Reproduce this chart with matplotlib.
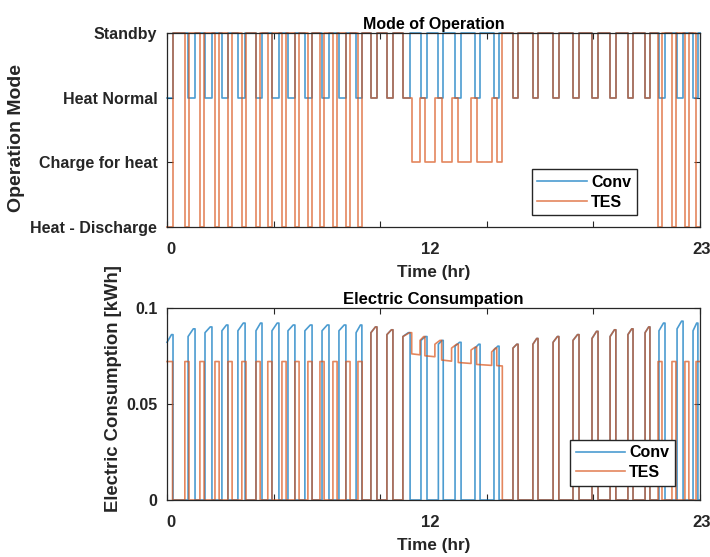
import matplotlib
matplotlib.use("Agg")
import matplotlib.pyplot as plt
import matplotlib.transforms as mtransforms

# mode codes: 0 Heat - Discharge, 1 Charge for heat, 2 Heat Normal, 3 Standby
MODE_NAMES = ["Heat - Discharge", "Charge for heat", "Heat Normal", "Standby"]
STANDBY = 3
HEAT_NORMAL = 2

# Conv: heat normal periods (hr) and electric consumption (kWh) at start / peak of each period
conv_start = [0.00, 0.91, 1.64, 2.37, 3.06, 3.84, 4.53, 5.22, 5.95, 6.69, 7.42, 8.16, 8.80, 9.49,
              10.18, 10.96, 11.71, 12.43, 13.29, 14.11, 14.93, 15.79, 16.66, 17.52, 18.34, 19.12,
              19.89, 20.63, 21.23, 22.01, 22.70]
conv_end = [0.26, 1.21, 1.94, 2.63, 3.37, 4.10, 4.83, 5.52, 6.26, 6.99, 7.72, 8.41, 9.06, 9.75,
            10.49, 11.22, 11.92, 12.69, 13.51, 14.33, 15.15, 16.01, 16.91, 17.78, 18.60, 19.37,
            20.11, 20.84, 21.49, 22.27, 22.91]
conv_low = [0.082, 0.085, 0.087, 0.088, 0.088, 0.088, 0.088, 0.088, 0.088, 0.088, 0.088, 0.087,
            0.087, 0.086, 0.085, 0.083, 0.081, 0.080, 0.079, 0.078, 0.079, 0.081, 0.082, 0.083,
            0.084, 0.085, 0.086, 0.087, 0.088, 0.089, 0.088]
conv_peak = [0.086, 0.089, 0.090, 0.091, 0.092, 0.092, 0.092, 0.091, 0.091, 0.091, 0.091, 0.091,
             0.090, 0.0885, 0.087, 0.085, 0.083, 0.082, 0.081, 0.080, 0.081, 0.084, 0.085, 0.086,
             0.0877, 0.0885, 0.089, 0.090, 0.092, 0.093, 0.092]

# TES: active periods (hr), mode and consumption (kWh) at start / end of each period
tes_start = [0.00, 0.77, 1.42, 2.07, 2.63, 3.23, 3.84, 4.35, 4.96, 5.52, 6.08, 6.60, 7.16, 7.72, 8.24,
             8.80, 9.49, 10.18,
             10.56, 10.92, 11.13, 11.56, 11.85, 12.28, 12.57, 13.12, 13.36, 14.01, 14.23,
             14.93, 15.79, 16.66, 17.52, 18.34, 19.12, 19.89, 20.63,
             21.19, 21.79, 22.35, 22.83]
tes_end = [0.24, 0.95, 1.60, 2.25, 2.81, 3.41, 4.02, 4.53, 5.14, 5.70, 6.26, 6.78, 7.34, 7.90, 8.42,
           9.06, 9.75, 10.56,
           10.92, 11.13, 11.56, 11.85, 12.28, 12.57, 13.12, 13.36, 14.01, 14.23, 14.47,
           15.15, 16.01, 16.91, 17.78, 18.60, 19.37, 20.11, 20.84,
           21.36, 21.96, 22.52, 23.00]
tes_mode = [0, 0, 0, 0, 0, 0, 0, 0, 0, 0, 0, 0, 0, 0, 0,
            2, 2, 2,
            1, 2, 1, 2, 1, 2, 1, 2, 1, 2, 1,
            2, 2, 2, 2, 2, 2, 2, 2,
            0, 0, 0, 0]
tes_low = [0.072, 0.072, 0.072, 0.072, 0.072, 0.072, 0.072, 0.072, 0.072, 0.072, 0.072, 0.072, 0.072,
           0.072, 0.072,
           0.087, 0.086, 0.085,
           0.076, 0.083, 0.075, 0.081, 0.0728, 0.079, 0.0715, 0.078, 0.0705, 0.077, 0.0699,
           0.079, 0.081, 0.082, 0.083, 0.084, 0.085, 0.086, 0.087,
           0.072, 0.072, 0.072, 0.072]
tes_high = [0.072, 0.072, 0.072, 0.072, 0.072, 0.072, 0.072, 0.072, 0.072, 0.072, 0.072, 0.072, 0.072,
            0.072, 0.072,
            0.090, 0.0885, 0.087,
            0.0755, 0.085, 0.0745, 0.083, 0.0722, 0.081, 0.071, 0.0795, 0.070, 0.079, 0.0697,
            0.081, 0.084, 0.085, 0.086, 0.0877, 0.0885, 0.089, 0.090,
            0.072, 0.072, 0.072, 0.072]

T_END = 23.0
CONV_COLOR = "#0072BD"
TES_COLOR = "#D95319"
TXT = "#262626"

plt.rcParams["font.family"] = ["Liberation Sans", "DejaVu Sans"]
plt.rcParams["font.weight"] = "bold"
plt.rcParams["axes.labelweight"] = "bold"
plt.rcParams["axes.titleweight"] = "bold"


def mode_path(starts, ends, modes):
    t, y = [], []
    prev = 0.0
    for a, b, m in zip(starts, ends, modes):
        if a > prev:
            t += [prev, a]
            y += [STANDBY, STANDBY]
        t += [a, b]
        y += [m, m]
        prev = b
    if prev < T_END:
        t += [prev, T_END]
        y += [STANDBY, STANDBY]
    return t, y


def energy_path(starts, ends, modes, lows, highs):
    t, y = [], []
    prev = 0.0
    for a, b, m, lo, hi in zip(starts, ends, modes, lows, highs):
        if a > prev:
            t += [prev, a]
            y += [0, 0]
        t.append(a)
        y.append(lo)
        if m == HEAT_NORMAL:
            # consumption ramps up during heating, then holds
            t.append(a + 0.75 * (b - a))
            y.append(hi)
        t.append(b)
        y.append(hi)
        prev = b
    if prev < T_END:
        t += [prev, T_END]
        y += [0, 0]
    return t, y


def style_axes(ax, title, title_size, ylabel, ylabel_size, label_x, label_y):
    ax.set_xlim(0, T_END)
    ax.set_xticks([0, 4.6, 9.2, 13.8, 18.4, 23])
    ax.set_xticklabels([])
    ax.tick_params(direction="in", top=True, right=True, length=4, width=0.8,
                   colors=TXT, labelsize=11.5, pad=7)
    for s in ax.spines.values():
        s.set_color(TXT)
        s.set_linewidth(0.9)
    ax.set_title(title, fontsize=title_size, pad=3, color="black")
    ax.set_ylabel(ylabel, fontsize=ylabel_size, color=TXT)
    ax.yaxis.set_label_coords(label_x, label_y)
    trans = mtransforms.blended_transform_factory(ax.transAxes, ax.transAxes)
    for lab, xp in [("0", 0.008), ("12", 0.493), ("23", 1.004)]:
        ax.text(xp, -0.115, lab, transform=trans, ha="center", va="center",
                fontsize=12, color=TXT)
    ax.text(0.5, -0.195, "Time (hr)", transform=trans, ha="center", va="top",
            fontsize=12.3, color=TXT)


def add_legend(ax, anchor):
    leg = ax.legend(loc="lower right", bbox_to_anchor=anchor, fancybox=False,
                    edgecolor=TXT, framealpha=1, fontsize=11.5, handlelength=3.1,
                    handletextpad=0.25, borderpad=0.35, labelspacing=0.3,
                    borderaxespad=0.3)
    leg.get_frame().set_linewidth(1.0)


fig = plt.figure(figsize=(7.1, 5.57), dpi=100)
ax1 = fig.add_axes([0.2352, 0.5925, 0.7507, 0.3483])
ax2 = fig.add_axes([0.2352, 0.1023, 0.7507, 0.3453])

# Mode of operation
conv_modes = [HEAT_NORMAL for _ in conv_start]
t, y = mode_path(conv_start, conv_end, conv_modes)
ax1.plot(t, y, color=CONV_COLOR, lw=1.2, alpha=0.7, label="Conv", clip_on=False)
t, y = mode_path(tes_start, tes_end, tes_mode)
ax1.plot(t, y, color=TES_COLOR, lw=1.2, alpha=0.7, label="TES", clip_on=False)
ax1.set_ylim(0, 3)
ax1.set_yticks([0, 1, 2, 3])
ax1.set_yticklabels(MODE_NAMES)
style_axes(ax1, "Mode of Operation", 11.5, "Operation Mode", 14, -0.266, 0.46)
add_legend(ax1, (0.89, 0.035))

# Electric consumption
t, y = energy_path(conv_start, conv_end, conv_modes, conv_low, conv_peak)
ax2.plot(t, y, color=CONV_COLOR, lw=1.2, alpha=0.7, label="Conv", clip_on=False)
t, y = energy_path(tes_start, tes_end, tes_mode, tes_low, tes_high)
ax2.plot(t, y, color=TES_COLOR, lw=1.2, alpha=0.7, label="TES", clip_on=False)
ax2.set_ylim(0, 0.1)
ax2.set_yticks([0, 0.05, 0.1])
ax2.set_yticklabels(["0", "0.05", "0.1"])
style_axes(ax2, "Electric Consumpation", 12, "Electric Consumption [kWh]", 13.3, -0.085, 0.58)
add_legend(ax2, (0.962, 0.05))

fig.savefig("out.png", dpi=100)
